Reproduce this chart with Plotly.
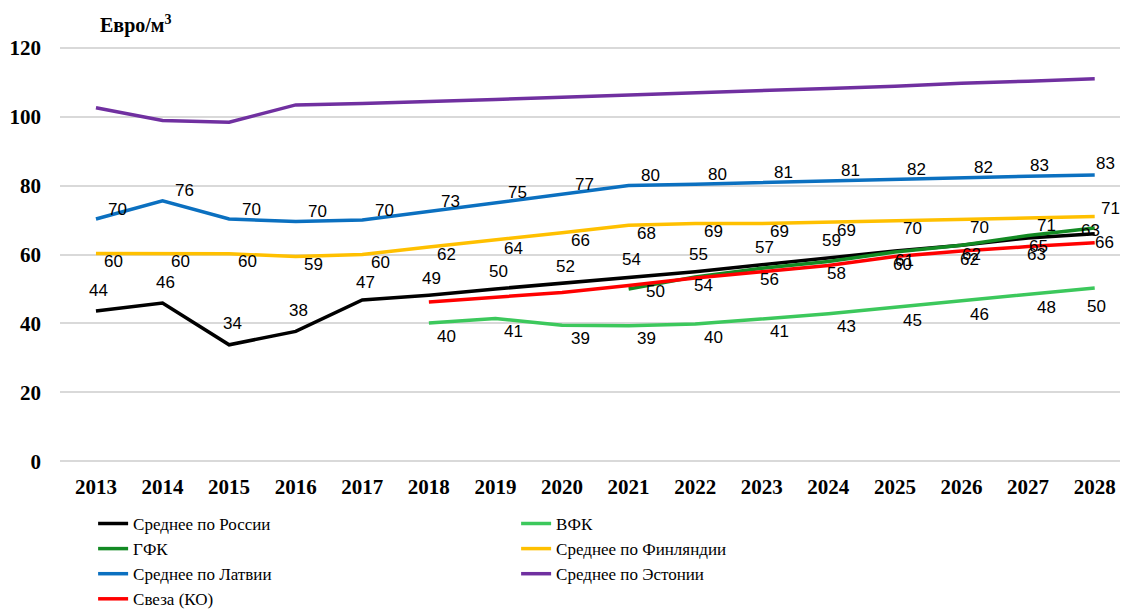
import plotly.graph_objects as go

# ---------------- data ----------------
years = [2013, 2014, 2015, 2016, 2017, 2018, 2019, 2020,
         2021, 2022, 2023, 2024, 2025, 2026, 2027, 2028]
years_from_2018 = [2018, 2019, 2020, 2021, 2022, 2023, 2024, 2025, 2026, 2027, 2028]
years_from_2021 = [2021, 2022, 2023, 2024, 2025, 2026, 2027, 2028]

russia = [43.6, 45.9, 33.8, 37.7, 46.8, 48.2, 50.0, 51.7, 53.5, 55.0, 57.0, 59.0, 61.0, 62.7, 64.8, 66.0]
russia_labels = ["44", "46", "34", "38", "47", "49", "50", "52", "54", "55", "57", "59", "61", "62", "65", "66"]

vfk = [40.1, 41.4, 39.5, 39.3, 39.8, 41.3, 42.8, 44.7, 46.5, 48.3, 50.3]
vfk_labels = ["40", "41", "39", "39", "40", "41", "43", "45", "46", "48", "50"]

gfk = [50.0, 53.5, 56.0, 58.0, 60.7, 62.7, 65.5, 67.7]
gfk_labels = ["50", "", "", "", "", "", "", ""]

finland = [60.3, 60.3, 60.2, 59.4, 60.0, 62.2, 64.2, 66.3, 68.5, 69.0, 69.0, 69.4, 70.0, 70.3, 70.7, 71.0]
finland_labels = ["60", "60", "60", "59", "60", "62", "64", "66", "68", "69", "69", "69", "70", "70", "71", "71"]

latvia = [70.3, 75.6, 70.3, 69.6, 70.0, 72.5, 75.0, 77.5, 80.0, 80.4, 80.9, 81.4, 81.9, 82.3, 82.7, 83.1]
latvia_labels = ["70", "76", "70", "70", "70", "73", "75", "77", "80", "80", "81", "81", "82", "82", "83", "83"]

estonia = [102.6, 98.9, 98.4, 103.4, 103.8, 104.3, 105.0, 105.6, 106.3, 106.9, 107.7, 108.2, 108.8, 109.7, 110.3, 111.0]

sveza = [46.2, 47.5, 49.0, 51.0, 53.2, 55.0, 56.8, 59.4, 61.0, 62.3, 63.4]
sveza_labels = ["", "", "", "", "54", "56", "58", "60", "62", "63", "63"]

y_ticks = [0, 20, 40, 60, 80, 100, 120]

# ---------------- styles ----------------
SERIF = "Liberation Serif"
LABEL_FONT = dict(family="Liberation Sans", size=17, color="#000000")

# the page body adds an 8px margin, so the figure is sized to the visible area
FIG_W, FIG_H = 1120, 604

fig = go.Figure()

series = [
    ("Среднее по России", years, russia, "#000000"),
    ("ВФК", years_from_2018, vfk, "#3CC85C"),
    ("ГФК", years_from_2021, gfk, "#138A23"),
    ("Среднее по Финляндии", years, finland, "#FFC000"),
    ("Среднее по Латвии", years, latvia, "#0B70C0"),
    ("Среднее по Эстонии", years, estonia, "#7030A0"),
    ("Свеза (КО)", years_from_2018, sveza, "#FF0000"),
]
for name, xs, ys, color in series:
    fig.add_trace(go.Scatter(
        x=xs, y=ys, mode="lines", name=name,
        line=dict(color=color, width=3.5, shape="linear"),
        hoverinfo="skip",
    ))


def add_labels(xs, ys, texts, shift_fn):
    for x, y, t in zip(xs, ys, texts):
        if not t:
            continue
        dx, dy = shift_fn(x)
        fig.add_annotation(
            x=x, y=y, text=t, showarrow=False,
            xshift=dx, yshift=dy, font=LABEL_FONT,
            xanchor="center", yanchor="middle",
        )


add_labels(years, russia, russia_labels,
           lambda yr: (3, 21 if yr <= 2016 else 17) if yr <= 2024 else (10, -9))
add_labels(years_from_2018, vfk, vfk_labels,
           lambda yr: (18, -13) if yr < 2028 else (2, -19))
add_labels(years_from_2021, gfk, gfk_labels, lambda yr: (27, -3))
add_labels(years, finland, finland_labels,
           lambda yr: (18, -8) if yr < 2028 else (16, 8))
add_labels(years, latvia, latvia_labels,
           lambda yr: (22, 10) if yr < 2027 else (11, 11))
add_labels(years_from_2018, sveza, sveza_labels,
           lambda yr: (8, -8) if yr < 2028 else (-4, 12))

fig.update_layout(
    width=FIG_W, height=FIG_H,
    margin=dict(l=52, r=0, t=38, b=149, autoexpand=False),
    plot_bgcolor="#FFFFFF", paper_bgcolor="#FFFFFF",
    title=dict(
        text="Евро/м<sup>3</sup>",
        x=92 / FIG_W, xanchor="left", xref="container",
        y=1 - 17 / FIG_H, yanchor="middle", yref="container",
        font=dict(family=SERIF, size=20, color="#000000", weight="bold"),
    ),
    xaxis=dict(
        range=[2012.46, 2028.5],
        tickmode="array", tickvals=years,
        ticktext=[str(y) for y in years],
        showgrid=False, zeroline=False, showline=False,
        ticks="", ticklabelstandoff=9, automargin=False,
        tickfont=dict(family=SERIF, size=21, color="#000000", weight="bold"),
    ),
    yaxis=dict(
        range=[-0.5, 120.5],
        tickmode="array", tickvals=y_ticks,
        showgrid=True, gridcolor="#D9D9D9", gridwidth=1.5,
        zeroline=False, showline=False, ticks="",
        ticklabelstandoff=18, automargin=False,
        tickfont=dict(family=SERIF, size=21, color="#000000", weight="bold"),
    ),
    legend=dict(
        orientation="h",
        x=0.031, xanchor="left",
        y=-0.103, yanchor="top",
        entrywidth=378, entrywidthmode="pixels",
        font=dict(family=SERIF, size=17, color="#000000"),
        bgcolor="rgba(0,0,0,0)",
        tracegroupgap=0,
    ),
    showlegend=True,
)

fig.write_html("out.html")
